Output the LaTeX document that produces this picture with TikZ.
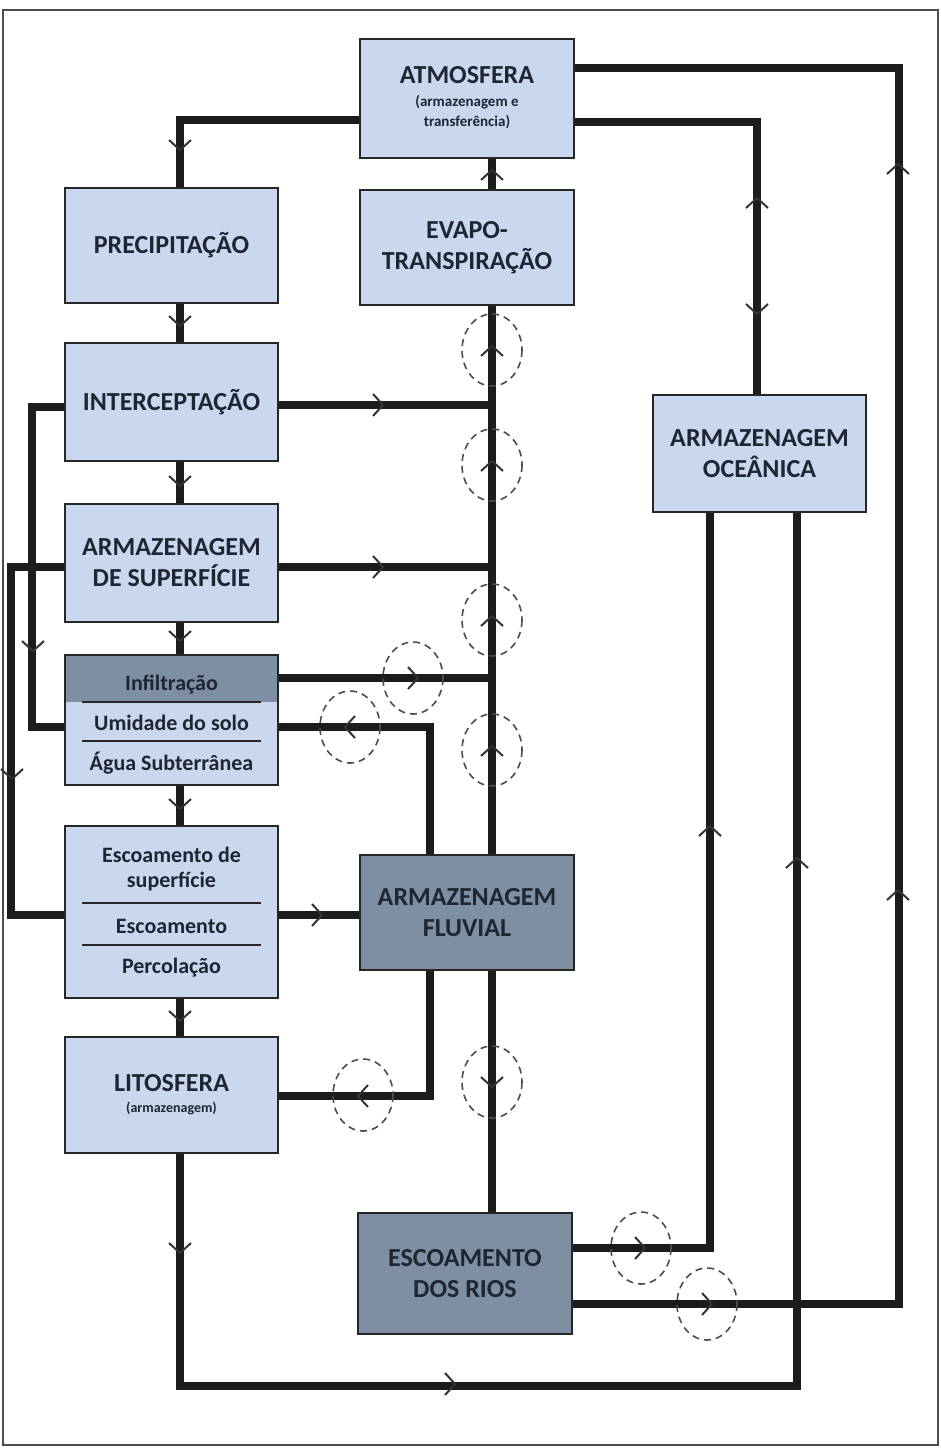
\documentclass[tikz,border=0pt]{standalone}
\usepackage{fontspec}
\setmainfont{Carlito}
\usetikzlibrary{calc}
\definecolor{lightbox}{HTML}{C9D8EE}
\definecolor{darkbox}{HTML}{7E8EA3}
\definecolor{linec}{HTML}{1C1C1C}
\definecolor{txt}{HTML}{1E2533}
\begin{document}
\begin{tikzpicture}[x=1pt,y=-1pt,
 box/.style={draw=black!85, line width=2pt, fill=lightbox, inner sep=0pt, text=txt,
   font=\bfseries\fontsize{26}{31}\selectfont, align=center, minimum width=213pt},
 dbox/.style={box, fill=darkbox},
 flow/.style={draw=linec, line width=7.5pt},
 chevstyle/.style={draw=black!80, line width=2pt},
 dcirc/.style={draw=black!70, line width=1.6pt, dash pattern=on 7pt off 5pt},
 rowtext/.style={text=txt, font=\bfseries\fontsize{22}{25}\selectfont, align=center, inner sep=0pt},
 smalltext/.style={text=txt, font=\bfseries\fontsize{15}{20}\selectfont, align=center, inner sep=0pt},
 titletext/.style={text=txt, font=\bfseries\fontsize{26}{31}\selectfont, align=center, inner sep=0pt},
 sepline/.style={draw=black!85, line width=2pt},
 chev/.pic={\draw[chevstyle] (-10,11) -- (0,0) -- (-10,-11);}
]
\useasboundingbox (0,0) rectangle (941,1448);
\draw[black!70, line width=2pt] (3,10) rectangle (938,1445);

% boxes
\node[box, minimum width=214pt, minimum height=119pt] (atm) at (467,98.5) {};
\node[titletext] (atmT) at (467,75) {ATMOSFERA};
\node[smalltext] (atmS) at (467,112) {(armazenagem e\\transferência)};

\node[box, minimum height=115pt] (prec) at (171.5,245.5) {PRECIPITAÇÃO};
\node[box, minimum width=214pt, minimum height=115pt] (evap) at (467,247.5) {EVAPO-\\TRANSPIRAÇÃO};
\node[box, minimum height=118pt] (inter) at (171.5,402) {INTERCEPTAÇÃO};
\node[box, minimum height=118pt] (sup) at (171.5,563) {ARMAZENAGEM\\DE SUPERFÍCIE};

\node[box, minimum height=130pt,
  path picture={\fill[darkbox] (path picture bounding box.north west) rectangle ([yshift=-47pt]path picture bounding box.north east);}] (inf) at (171.5,720) {};
\draw[sepline] (82,702) -- (261,702);
\draw[sepline] (82,741) -- (261,741);
\node[rowtext] (infA) at (171.5,685) {Infiltração};
\node[rowtext] (infB) at (171.5,723) {Umidade do solo};
\node[rowtext] (infC) at (171.5,763) {Água Subterrânea};

\node[box, minimum height=172pt] (esc) at (171.5,912) {};
\draw[sepline] (82,903) -- (261,903);
\draw[sepline] (82,945) -- (261,945);
\node[rowtext] (escA) at (171.5,869) {Escoamento de\\superfície};
\node[rowtext] (escB) at (171.5,926) {Escoamento};
\node[rowtext] (escC) at (171.5,968) {Percolação};

\node[dbox, minimum width=214pt, minimum height=115pt] (fluv) at (467,912.5) {ARMAZENAGEM\\FLUVIAL};

\node[box, minimum height=116pt] (lit) at (171.5,1095) {};
\node[titletext] (litT) at (171.5,1083) {LITOSFERA};
\node[smalltext, font=\bfseries\fontsize{14}{18}\selectfont] (litS) at (171.5,1108) {(armazenagem)};

\node[dbox, minimum width=214pt, minimum height=121pt] (rios) at (465,1273.5) {ESCOAMENTO\\DOS RIOS};
\node[box, minimum height=117pt] (oce) at (759.5,453.5) {ARMAZENAGEM\\OCEÂNICA};

% connectors
\draw[flow] ([yshift=-21.5pt]atm.west) -| ([xshift=8.5pt]prec.north);
\draw[flow] ([xshift=8.5pt]prec.south) -- ([xshift=8.5pt]inter.north);
\draw[flow] ([xshift=8.5pt]inter.south) -- ([xshift=8.5pt]sup.north);
\draw[flow] ([xshift=8.5pt]sup.south) -- ([xshift=8.5pt]inf.north);
\draw[flow] ([xshift=8.5pt]inf.south) -- ([xshift=8.5pt]esc.north);
\draw[flow] ([xshift=8.5pt]esc.south) -- ([xshift=8.5pt]lit.north);
\draw[flow] ([xshift=8.5pt]lit.south) -- ++(0,232) -| ([xshift=37.5pt]oce.south);
\draw[flow] ([yshift=25.5pt]rios.east) -| ([xshift=-49.5pt]oce.south);
\draw[flow] ([yshift=-30.5pt]rios.east) -- ++(326,0) |- ([yshift=30.5pt]atm.east);
\draw[flow] ([yshift=-23.5pt]atm.east) -| ([xshift=-2.5pt]oce.north);
\draw[flow] ([xshift=25pt]evap.north) -- ([xshift=25pt]atm.south);
\draw[flow] ([xshift=25pt]evap.south) -- ([xshift=25pt]fluv.north);
\draw[flow] ([yshift=-3pt]inter.east) -- ++(214,0);
\draw[flow] ([yshift=-4pt]sup.east) -- ++(214,0);
\draw[flow] ([yshift=42pt]inf.east) -- ++(214,0);
\draw[flow] ([xshift=-37pt]fluv.north) |- ([yshift=-7pt]inf.east);
\draw[flow] ([yshift=-3pt]esc.east) -- ([yshift=-3pt]esc.east -| fluv.west);
\draw[flow] ([xshift=-37pt]fluv.south) |- ([yshift=-1pt]lit.east);
\draw[flow] ([xshift=25pt]fluv.south) -- ([xshift=27pt]rios.north);
\draw[flow] ([yshift=-5pt]inter.west) -- ++(-32,0) |- ([yshift=-7pt]inf.west);
\draw[flow] ([yshift=-4pt]sup.west) -- ++(-53,0) |- ([yshift=-3pt]esc.west);

% dashed circles
\foreach \cx/\cy in {492/350, 492/465, 492/620, 492/750, 413/678, 350/727, 363/1095, 492/1082, 641/1248, 707/1304}
  \draw[dcirc] (\cx,\cy) ellipse [x radius=30, y radius=36];

% arrow marks
\pic[rotate=-90] at (180,150) {chev};
\pic[rotate=-90] at (180,326) {chev};
\pic[rotate=-90] at (180,486) {chev};
\pic[rotate=-90] at (180,641) {chev};
\pic[rotate=-90] at (180,809) {chev};
\pic[rotate=-90] at (180,1021) {chev};
\pic[rotate=-90] at (180,1253) {chev};
\pic at (455,1384) {chev};
\pic[rotate=90] at (797,858) {chev};
\pic at (645,1248) {chev};
\pic[rotate=90] at (710,826) {chev};
\pic at (712,1304) {chev};
\pic[rotate=90] at (898,890) {chev};
\pic[rotate=90] at (898,164) {chev};
\pic[rotate=90] at (757,198) {chev};
\pic[rotate=-90] at (757,314) {chev};
\pic[rotate=90] at (492,170) {chev};
\pic[rotate=90] at (492,346) {chev};
\pic[rotate=90] at (492,461) {chev};
\pic[rotate=90] at (492,616) {chev};
\pic[rotate=90] at (492,746) {chev};
\pic at (383,405) {chev};
\pic at (383,567) {chev};
\pic at (418,678) {chev};
\pic[rotate=180] at (345,727) {chev};
\pic at (322,915) {chev};
\pic[rotate=180] at (358,1096) {chev};
\pic[rotate=-90] at (492,1087) {chev};
\pic[rotate=-90] at (33,651) {chev};
\pic[rotate=-90] at (12,779) {chev};
\end{tikzpicture}
\end{document}
